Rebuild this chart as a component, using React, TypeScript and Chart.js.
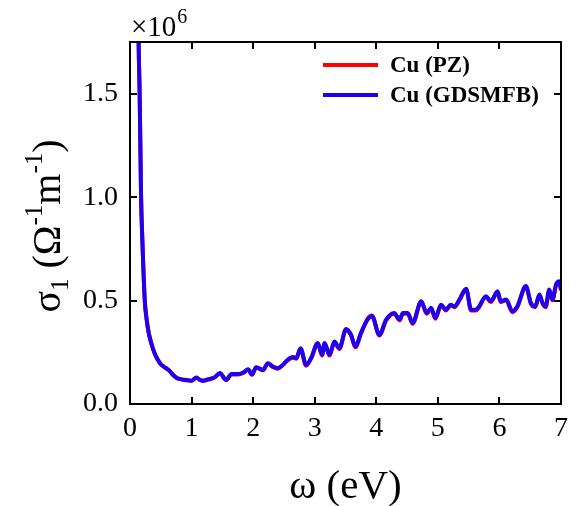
import React, { useEffect, useRef } from "react";
import { Chart, registerables } from "chart.js";

Chart.register(...registerables);

// photon energy (eV)
const energy = [
  0.10, 0.14, 0.157, 0.18, 0.20, 0.24, 0.27, 0.30, 0.34, 0.40, 0.45, 0.50, 0.55, 0.60, 0.65, 0.70,
  0.76, 0.82, 0.88, 0.94, 1.00, 1.08, 1.13, 1.19, 1.25, 1.30, 1.38, 1.46, 1.56, 1.65, 1.76, 1.84,
  1.92, 1.98, 2.05, 2.16, 2.24, 2.32, 2.40, 2.48, 2.56, 2.65, 2.70, 2.77, 2.86, 2.94, 3.05, 3.12,
  3.16, 3.24, 3.32, 3.40, 3.51, 3.59, 3.66, 3.75, 3.86, 3.93, 4.05, 4.16, 4.29, 4.38, 4.43, 4.51,
  4.59, 4.73, 4.82, 4.89, 4.96, 5.05, 5.13, 5.21, 5.27, 5.35, 5.46, 5.54, 5.62, 5.67, 5.78, 5.86,
  5.97, 6.02, 6.11, 6.21, 6.29, 6.43, 6.51, 6.58, 6.65, 6.70, 6.75, 6.81, 6.86, 6.92, 6.97, 7.00,
];

// sigma_1 in units of 10^6 Ω^-1 m^-1 — Cu (GDSMFB)
const sigmaGDSMFB = [
  3.0, 1.75, 1.5, 1.0, 0.8, 0.5, 0.41, 0.35, 0.3, 0.245, 0.215, 0.192, 0.18, 0.17, 0.158, 0.14,
  0.126, 0.12, 0.117, 0.115, 0.113, 0.128, 0.118, 0.113, 0.118, 0.121, 0.13, 0.15, 0.117, 0.145, 0.145, 0.152,
  0.168, 0.143, 0.178, 0.165, 0.197, 0.181, 0.173, 0.189, 0.214, 0.227, 0.222, 0.27, 0.189, 0.222, 0.295, 0.238,
  0.295, 0.238, 0.302, 0.27, 0.363, 0.335, 0.278, 0.343, 0.408, 0.424, 0.335, 0.408, 0.44, 0.408, 0.44, 0.44,
  0.392, 0.497, 0.44, 0.465, 0.416, 0.48, 0.456, 0.48, 0.472, 0.505, 0.557, 0.456, 0.456, 0.472, 0.521, 0.497,
  0.545, 0.497, 0.505, 0.448, 0.472, 0.57, 0.489, 0.472, 0.529, 0.489, 0.472, 0.553, 0.505, 0.578, 0.594, 0.553,
];

// sigma_1 in units of 10^6 Ω^-1 m^-1 — Cu (PZ)
const sigmaPZ = [
  3.0, 1.75, 1.5, 1.0, 0.8, 0.5, 0.41, 0.35, 0.3, 0.245, 0.215, 0.192, 0.18, 0.17, 0.158, 0.14,
  0.126, 0.12, 0.116, 0.114, 0.112, 0.127, 0.117, 0.112, 0.117, 0.12, 0.129, 0.148, 0.115, 0.143, 0.143, 0.15,
  0.166, 0.141, 0.176, 0.163, 0.195, 0.179, 0.171, 0.187, 0.211, 0.224, 0.219, 0.266, 0.185, 0.219, 0.291, 0.234,
  0.291, 0.234, 0.298, 0.266, 0.359, 0.331, 0.274, 0.339, 0.413, 0.428, 0.331, 0.404, 0.436, 0.404, 0.436, 0.436,
  0.388, 0.493, 0.436, 0.461, 0.412, 0.476, 0.452, 0.476, 0.468, 0.501, 0.553, 0.452, 0.452, 0.468, 0.517, 0.493,
  0.541, 0.493, 0.501, 0.444, 0.468, 0.566, 0.485, 0.468, 0.525, 0.485, 0.468, 0.549, 0.501, 0.574, 0.59, 0.549,
];

const seriesLabels = ["Cu (PZ)", "Cu (GDSMFB)"];
const seriesColors = ["rgb(255,0,0)", "rgb(30,0,240)"];
const xTickStep = 1;
const yTickStep = 0.5;

const SERIF = "'Liberation Serif', 'Times New Roman', serif";

const framePlugin = {
  id: "frame",
  afterDraw(chart: any) {
    const { ctx, chartArea: a, scales } = chart;
    const xs = scales.x;
    const ys = scales.y;
    ctx.save();
    ctx.strokeStyle = "#000";
    ctx.lineWidth = 2;
    ctx.strokeRect(a.left, a.top, a.right - a.left, a.bottom - a.top);
    const tl = 7;
    ctx.beginPath();
    xs.ticks.forEach((t: any) => {
      const px = Math.round(xs.getPixelForValue(t.value));
      if (px <= a.left + 1 || px >= a.right - 1) return;
      ctx.moveTo(px, a.bottom);
      ctx.lineTo(px, a.bottom - tl);
      ctx.moveTo(px, a.top);
      ctx.lineTo(px, a.top + tl);
    });
    ys.ticks.forEach((t: any) => {
      const py = Math.round(ys.getPixelForValue(t.value));
      if (py >= a.bottom - 1 || py <= a.top + 1) return;
      ctx.moveTo(a.left, py);
      ctx.lineTo(a.left + tl, py);
      ctx.moveTo(a.right, py);
      ctx.lineTo(a.right - tl, py);
    });
    ctx.stroke();

    ctx.fillStyle = "#000";
    // x title
    ctx.font = `41px ${SERIF}`;
    ctx.textAlign = "center";
    ctx.textBaseline = "alphabetic";
    ctx.fillText("ω (eV)", (a.left + a.right) / 2, 498);

    // multiplier
    ctx.textAlign = "left";
    ctx.font = `29px ${SERIF}`;
    ctx.fillText("×10", a.left + 1, 36);
    const w10 = ctx.measureText("×10").width;
    ctx.font = `20px ${SERIF}`;
    ctx.fillText("6", a.left + 1 + w10 + 1, 23);

    // y title with sub/superscripts, rotated
    const big = 40;
    const small = 25;
    const parts: [string, number, number][] = [
      ["σ", big, 0],
      ["1", small, 8],
      [" (Ω", big, 0],
      ["-1", small, -18],
      ["m", big, 0],
      ["-1", small, -18],
      [")", big, 0],
    ];
    let total = 0;
    parts.forEach(([s, sz]) => {
      ctx.font = `${sz}px ${SERIF}`;
      total += ctx.measureText(s).width;
    });
    ctx.translate(60, (a.top + a.bottom) / 2 + 3);
    ctx.rotate(-Math.PI / 2);
    let cx = -total / 2;
    parts.forEach(([s, sz, dy]) => {
      ctx.font = `${sz}px ${SERIF}`;
      ctx.fillText(s, cx, dy);
      cx += ctx.measureText(s).width;
    });
    ctx.setTransform(1, 0, 0, 1, 0, 0);

    // legend
    const lx = 323;
    const rows = [65, 95];
    chart.data.datasets.forEach((ds: any, i: number) => {
      ctx.strokeStyle = ds.borderColor;
      ctx.lineWidth = 4;
      ctx.beginPath();
      ctx.moveTo(lx, rows[i]);
      ctx.lineTo(lx + 55, rows[i]);
      ctx.stroke();
      ctx.fillStyle = "#000";
      ctx.font = `bold 23px ${SERIF}`;
      ctx.textAlign = "left";
      ctx.textBaseline = "middle";
      ctx.fillText(ds.label, lx + 67, rows[i] + 1);
    });
    ctx.restore();
  },
};

export default function App() {
  const ref = useRef<HTMLCanvasElement | null>(null);
  useEffect(() => {
    if (!ref.current) return;
    const chart = new Chart(ref.current, {
      type: "line",
      data: {
        datasets: [
          {
            label: seriesLabels[0],
            data: energy.map((e, i) => ({ x: e, y: sigmaPZ[i] })),
            borderColor: seriesColors[0],
            borderWidth: 4,
            pointRadius: 0,
            cubicInterpolationMode: "monotone",
            order: 2,
          },
          {
            label: seriesLabels[1],
            data: energy.map((e, i) => ({ x: e, y: sigmaGDSMFB[i] })),
            borderColor: seriesColors[1],
            borderWidth: 4,
            pointRadius: 0,
            cubicInterpolationMode: "monotone",
            order: 1,
          },
        ],
      },
      options: {
        responsive: false,
        animation: false,
        layout: { padding: { left: 0, top: 42, right: 13, bottom: 0 } },
        plugins: { legend: { display: false }, tooltip: { enabled: false } },
        scales: {
          x: {
            type: "linear",
            min: 0,
            max: 7,
            grid: { display: false, drawTicks: false },
            border: { display: false },
            ticks: {
              stepSize: xTickStep,
              padding: 8,
              color: "#000",
              font: { family: SERIF, size: 28 },
              maxRotation: 0,
            },
            afterFit: (s: any) => {
              s.height = 102;
            },
          },
          y: {
            type: "linear",
            min: 0,
            max: 1.75,
            grid: { display: false, drawTicks: false },
            border: { display: false },
            ticks: {
              stepSize: yTickStep,
              includeBounds: false,
              padding: 12,
              color: "#000",
              font: { family: SERIF, size: 28 },
              callback: (v: any) => Number(v).toFixed(1),
            },
            afterBuildTicks: (s: any) => {
              s.ticks = s.ticks.filter((t: any) => Math.abs(t.value / yTickStep - Math.round(t.value / yTickStep)) < 1e-6);
            },
            afterFit: (s: any) => {
              s.width = 130;
            },
          },
        },
      },
      plugins: [framePlugin],
    });
    return () => chart.destroy();
  }, []);
  return (
    <div style={{ position: "fixed", left: 0, top: 0, width: 576, height: 506, background: "#fff" }}>
      <canvas ref={ref} width={576} height={506} />
    </div>
  );
}
